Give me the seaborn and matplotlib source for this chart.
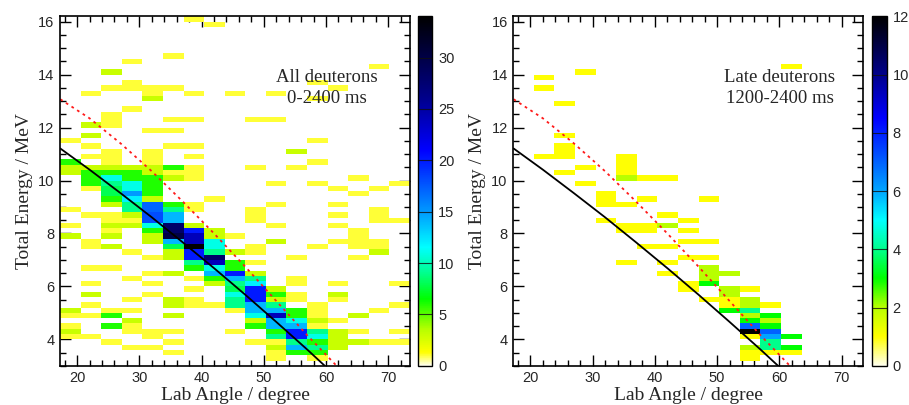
import numpy as np
import pandas as pd
import matplotlib
matplotlib.use("Agg")
import matplotlib.pyplot as plt
from matplotlib.colors import LinearSegmentedColormap
from matplotlib.ticker import MultipleLocator
import seaborn as sns

# ---------------- data ----------------
# histogram binning (lab angle in degrees, total energy in MeV)
angle_edges = np.linspace(17.25, 73.5, 18)     # 17 angle bins
energy_edges = np.linspace(3.0, 16.2, 67)      # 66 energy bins of 0.2 MeV

# non-empty cells: (energy bin, angle bin, counts) -- all deuterons 0-2400 ms
all_cells = [
    (65, 6, 1), (64, 7, 1), (58, 5, 1), (57, 3, 1), (56, 15, 1), (55, 2, 3),
    (53, 3, 1), (53, 12, 1), (52, 2, 1), (52, 3, 1), (52, 4, 1), (52, 5, 1), (52, 13, 1),
    (51, 1, 1), (51, 4, 1), (51, 6, 1), (51, 8, 1), (51, 10, 1), (50, 4, 3), (50, 12, 1),
    (48, 3, 1), (47, 2, 1), (46, 2, 1), (45, 2, 1), (46, 5, 1), (46, 6, 1), (46, 9, 1),
    (46, 10, 1), (45, 1, 3), (44, 4, 1), (44, 5, 1), (43, 1, 3), (42, 0, 1), (42, 12, 1),
    (41, 1, 1), (41, 5, 1), (41, 6, 1), (40, 2, 1), (39, 2, 1), (38, 2, 1), (40, 4, 1),
    (39, 4, 1), (38, 4, 1), (40, 11, 3), (39, 1, 1), (39, 6, 1), (38, 12, 1),
    (38, 0, 6), (37, 0, 3), (36, 0, 3), (37, 1, 3), (36, 1, 6), (35, 1, 6), (34, 1, 6), (33, 1, 1),
    (37, 2, 3), (36, 2, 6), (35, 2, 11), (34, 2, 9), (33, 2, 8),
    (37, 3, 3), (36, 3, 6), (35, 3, 6), (34, 3, 11), (33, 3, 11),
    (37, 4, 3), (36, 4, 3), (35, 4, 6), (34, 4, 6), (33, 4, 6),
    (37, 5, 6), (36, 5, 1), (35, 5, 3), (37, 6, 1), (36, 6, 1), (35, 6, 1),
    (37, 9, 1), (37, 11, 1), (34, 10, 1), (34, 12, 1), (33, 13, 1), (35, 14, 1),
    (33, 15, 1), (34, 16, 1),
    (32, 2, 8), (32, 3, 15), (32, 4, 6), (32, 14, 1),
    (31, 2, 6), (31, 3, 12), (31, 4, 3), (31, 7, 1),
    (30, 2, 3), (30, 3, 9), (30, 4, 17), (30, 5, 6), (30, 6, 1), (30, 10, 1), (30, 13, 1),
    (29, 0, 1), (29, 3, 9), (29, 4, 17), (29, 5, 9), (29, 6, 1), (29, 9, 1), (29, 15, 1),
    (28, 1, 1), (28, 2, 1), (28, 3, 3), (28, 4, 18), (28, 5, 14), (28, 9, 1), (28, 13, 1), (28, 15, 1),
    (27, 2, 1), (27, 3, 1), (27, 4, 18), (27, 5, 14), (27, 9, 1), (27, 15, 1), (27, 16, 1),
    (26, 0, 1), (26, 2, 3), (26, 3, 3), (26, 4, 11), (26, 5, 28), (26, 6, 3), (26, 10, 1), (26, 13, 1),
    (25, 2, 1), (25, 4, 6), (25, 5, 28), (25, 6, 20), (25, 7, 3), (25, 14, 1),
    (24, 0, 3), (24, 2, 3), (24, 4, 3), (24, 5, 30), (24, 6, 24), (24, 7, 3), (24, 8, 1), (24, 14, 1),
    (23, 1, 1), (23, 4, 3), (23, 5, 14), (23, 6, 24), (23, 7, 11), (23, 10, 3), (23, 13, 1), (23, 14, 1), (23, 15, 1),
    (22, 1, 1), (22, 2, 3), (22, 5, 8), (22, 6, 34), (22, 7, 11), (22, 9, 1), (22, 12, 1), (22, 14, 1), (22, 15, 1),
    (21, 3, 1), (21, 5, 3), (21, 6, 20), (21, 7, 9), (21, 8, 3), (21, 9, 1), (21, 15, 3),
    (20, 4, 1), (20, 5, 3), (20, 6, 20), (20, 7, 28), (20, 11, 1), (20, 14, 1),
    (19, 6, 9), (19, 7, 24), (19, 8, 6), (19, 9, 1),
    (18, 1, 1), (18, 2, 1), (18, 6, 6), (18, 7, 11), (18, 8, 6),
    (17, 4, 1), (17, 5, 3), (17, 7, 14), (17, 8, 20), (17, 9, 3),
    (16, 3, 1), (16, 6, 1), (16, 7, 6), (16, 8, 14), (16, 9, 9), (16, 11, 1),
    (15, 1, 1), (15, 4, 1), (15, 7, 3), (15, 8, 9), (15, 9, 12), (15, 11, 1), (15, 13, 1), (15, 16, 1),
    (14, 6, 1), (14, 8, 8), (14, 9, 20), (14, 10, 3),
    (13, 1, 3), (13, 4, 1), (13, 8, 11), (13, 9, 20), (13, 10, 6), (13, 11, 1), (13, 13, 3),
    (12, 3, 1), (12, 5, 3), (12, 6, 1), (12, 8, 9), (12, 9, 20), (12, 10, 3), (12, 11, 1), (12, 13, 1),
    (11, 1, 1), (11, 5, 3), (11, 6, 1), (11, 7, 1), (11, 8, 9), (11, 9, 14), (11, 10, 9), (11, 12, 1), (11, 16, 1),
    (10, 0, 3), (10, 2, 1), (10, 3, 1), (10, 8, 1), (10, 9, 14), (10, 10, 14), (10, 11, 6), (10, 12, 1), (10, 15, 1),
    (9, 0, 1), (9, 1, 1), (9, 2, 6), (9, 5, 3), (9, 9, 11), (9, 10, 24), (9, 11, 6), (9, 12, 1), (9, 14, 3),
    (8, 3, 3), (8, 9, 3), (8, 10, 14), (8, 11, 11), (8, 12, 3), (8, 13, 1),
    (7, 0, 1), (7, 2, 6), (7, 3, 1), (7, 9, 6), (7, 10, 14), (7, 11, 14), (7, 12, 1),
    (6, 0, 3), (6, 3, 1), (6, 4, 1), (6, 5, 1), (6, 8, 1), (6, 10, 6), (6, 11, 20), (6, 12, 9),
    (6, 13, 3), (6, 14, 1), (6, 16, 1),
    (5, 0, 1), (5, 1, 1), (5, 4, 1), (5, 10, 9), (5, 11, 20), (5, 12, 11), (5, 13, 3),
    (4, 2, 1), (4, 5, 1), (4, 9, 1), (4, 10, 1), (4, 11, 9), (4, 12, 6), (4, 13, 3), (4, 14, 3),
    (4, 15, 1), (4, 16, 1),
    (3, 3, 1), (3, 4, 1), (3, 10, 3), (3, 11, 14), (3, 12, 9), (3, 13, 3),
    (2, 5, 1), (2, 10, 1), (2, 11, 6), (2, 12, 6),
    (1, 10, 1), (1, 12, 1),
]

# non-empty cells: (energy bin, angle bin, counts) -- late deuterons 1200-2400 ms
late_cells = [
    (56, 13, 1), (55, 3, 1), (54, 1, 1), (52, 1, 1), (49, 2, 1), (43, 2, 1),
    (41, 2, 1), (40, 2, 1), (39, 2, 1), (39, 1, 1), (39, 5, 1), (38, 5, 1), (37, 5, 1),
    (36, 5, 1), (37, 3, 1), (36, 2, 1), (35, 5, 2), (35, 6, 1), (35, 7, 1), (34, 3, 1),
    (32, 4, 1), (31, 4, 1), (31, 6, 1), (31, 9, 1), (30, 4, 1), (30, 5, 1), (28, 7, 1),
    (27, 4, 1), (27, 8, 1), (26, 5, 1), (26, 6, 1), (26, 7, 2), (25, 5, 1), (25, 6, 1),
    (25, 8, 1), (23, 8, 1), (23, 9, 1), (22, 6, 1), (22, 7, 1), (20, 8, 1), (20, 9, 1),
    (19, 5, 1), (19, 7, 1), (18, 9, 2), (17, 9, 2), (17, 10, 2), (17, 7, 1), (16, 9, 2),
    (15, 9, 3), (15, 8, 1), (14, 8, 1), (14, 10, 2), (13, 10, 2), (14, 11, 1),
    (12, 9, 1), (12, 10, 1), (12, 11, 2), (11, 11, 2), (11, 10, 1), (11, 12, 1),
    (10, 10, 3), (10, 11, 4), (9, 11, 2), (9, 12, 3), (8, 11, 3), (8, 12, 2),
    (7, 11, 7), (7, 12, 3), (6, 11, 12), (6, 12, 7), (5, 11, 1), (5, 12, 6), (5, 13, 3),
    (4, 12, 4), (3, 11, 2), (3, 12, 4), (3, 13, 3), (2, 11, 1), (1, 11, 1), (2, 12, 1),
    (2, 13, 1),
]

# kinematic curves (angle in degrees, energy in MeV)
solid_angle = [17.3, 22, 27, 32, 37, 42, 47, 52, 57, 59.8]
solid_energy = [11.21, 10.41, 9.52, 8.61, 7.66, 6.69, 5.69, 4.66, 3.61, 3.0]
dashed_angle = [17.3, 22, 27, 32, 37, 42, 47, 52, 57, 61.7]
dashed_energy = [13.07, 12.35, 11.4, 10.35, 9.2, 8.0, 6.75, 5.45, 4.15, 3.0]

panel_texts = ["All deuterons\n0-2400 ms", "Late deuterons\n1200-2400 ms"]
z_max = [34, 12]
z_ticks = [[0, 5, 10, 15, 20, 25, 30], [0, 2, 4, 6, 8, 10, 12]]
x_label = "Lab Angle / degree"
y_label = "Total Energy / MeV"

# ---------------- helpers ----------------
def cells_to_frame(cells):
    rows, cols, cnt = zip(*cells)
    xc = 0.5 * (angle_edges[:-1] + angle_edges[1:])
    yc = 0.5 * (energy_edges[:-1] + energy_edges[1:])
    return pd.DataFrame({"angle": xc[list(cols)], "energy": yc[list(rows)],
                         "counts": np.asarray(cnt, float)})


def make_cmap(anchors, vmax):
    return LinearSegmentedColormap.from_list(
        "root", [(v / vmax, c) for v, c in anchors], N=512)


left_anchors = [
    (0, (1, 1, 0.93)), (1.3, (1, 1, 0)), (3.5, (0.72, 1, 0)), (6.5, (0, 1, 0)),
    (9, (0, 1, 0.55)), (11.5, (0, 1, 1)), (15, (0, 0.6, 1)), (19, (0, 0.2, 1)),
    (21, (0, 0, 1)), (26, (0, 0, 0.55)), (34, (0, 0, 0)),
]
right_anchors = [
    (0, (1, 1, 0.93)), (1, (1, 1, 0)), (2, (0.72, 1, 0)), (3, (0, 1, 0)),
    (4, (0, 1, 0.55)), (5, (0, 1, 1)), (6, (0, 0.65, 1)), (7.3, (0, 0.3, 1)),
    (8.5, (0, 0, 1)), (10, (0, 0, 0.55)), (12, (0, 0, 0)),
]

sns.set_theme(style="white")
plt.rcParams["font.family"] = ["Liberation Sans", "DejaVu Sans"]

fig = plt.figure(figsize=(9.09, 4.05), dpi=100)
W, H = 909.0, 405.0
bottom = (H - 365.8) / H
height = 349.4 / H
ax_pos = [(60 / W, bottom, 350 / W, height), (513.3 / W, bottom, 350 / W, height)]
cb_pos = [(417.5 / W, bottom, 15 / W, height), (872 / W, bottom, 15 / W, height)]

serif = ["Liberation Serif", "DejaVu Serif"]

for k, cells in enumerate([all_cells, late_cells]):
    ax = fig.add_axes(ax_pos[k])
    cax = fig.add_axes(cb_pos[k])
    df = cells_to_frame(cells)
    cmap = make_cmap(left_anchors if k == 0 else right_anchors, z_max[k])
    sns.histplot(data=df, x="angle", y="energy", weights="counts",
                 bins=(angle_edges, energy_edges), cmap=cmap, vmin=0, vmax=z_max[k],
                 cbar=True, cbar_ax=cax, ax=ax)
    sns.lineplot(x=solid_angle, y=solid_energy, ax=ax, color="black", lw=1.3,
                 sort=False, estimator=None)
    sns.lineplot(x=dashed_angle, y=dashed_energy, ax=ax, color="#ff1a1a", lw=1.3,
                 sort=False, estimator=None, linestyle=(0, (1.5, 2.2)))
    ax.set_xlim(angle_edges[0], angle_edges[-1])
    ax.set_ylim(energy_edges[0], energy_edges[-1])
    ax.xaxis.set_major_locator(MultipleLocator(10))
    ax.xaxis.set_minor_locator(MultipleLocator(2))
    ax.yaxis.set_major_locator(MultipleLocator(2))
    ax.yaxis.set_minor_locator(MultipleLocator(0.5))
    ax.tick_params(which="both", direction="in", top=True, right=True,
                   bottom=True, left=True, color="black", width=1.0)
    ax.tick_params(which="major", length=8, labelsize=10.5, pad=4)
    ax.tick_params(which="minor", length=4)
    for s in ax.spines.values():
        s.set_color("black")
        s.set_linewidth(1.2)
    ax.set_xlabel(x_label, fontsize=14, family=serif, labelpad=1)
    ax.set_ylabel(y_label, fontsize=14, family=serif, labelpad=4)
    ax.text(60.1, 13.5, panel_texts[k], ha="center", va="center",
            fontsize=13.5, family=serif, linespacing=1.35)

    cax.set_ylim(0, z_max[k])
    cax.set_yticks(z_ticks[k])
    cax.tick_params(axis="y", length=0, labelsize=10.5, pad=4, right=True, left=False)
    cax.yaxis.set_label_position("right")
    cax.yaxis.tick_right()
    for t in z_ticks[k][1:]:
        cax.axhline(t, color="#111111", lw=0.8, alpha=0.8)
    for s in cax.spines.values():
        s.set_color("black")
        s.set_linewidth(1.0)

fig.savefig("out.png", dpi=100)
